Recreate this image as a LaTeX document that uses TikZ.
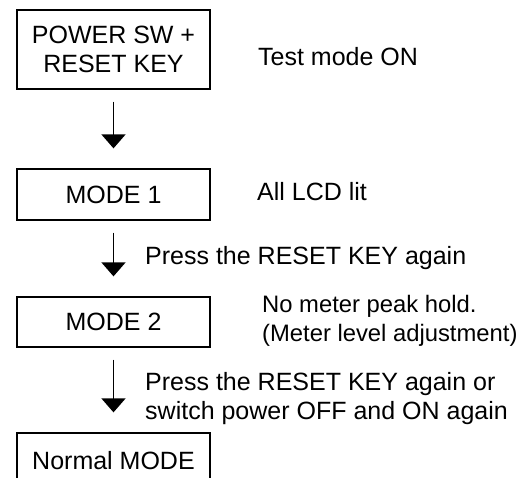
\documentclass[tikz,border=0pt]{standalone}
\usepackage{fontspec}
\setmainfont{Liberation Sans}
\usetikzlibrary{arrows.meta}

\tikzset{
    modebox/.style={draw, line width=1.3pt, minimum width=193pt, inner sep=0pt, font=\fontsize{25}{29}\selectfont, align=center},
    steplabel/.style={anchor=west, inner sep=0pt, font=\fontsize{25}{29}\selectfont, align=left},
    flowarrow/.style={line width=1.8pt, -{Triangle[width=24pt,length=14pt]}, shorten <=12pt, shorten >=20pt}
}

\begin{document}
\begin{tikzpicture}[x=1pt, y=-1pt]
    % Page size
    \useasboundingbox (0,0) rectangle (522,477);
    \clip (0,0) rectangle (522,477);

    % Mode boxes
    \node[modebox, minimum height=79pt] (pwr) at (113.5,49.5) {POWER SW +\\RESET KEY};
    \node[modebox, minimum height=51pt] (mode1) at (113.5,194.5) {MODE 1};
    \node[modebox, minimum height=50pt] (mode2) at (113.5,322) {MODE 2};
    \node[modebox, minimum height=56pt] (normal) at (113.5,461) {Normal MODE};

    % Arrows between the modes
    \draw[flowarrow] (pwr) -- (mode1);
    \draw[flowarrow] (mode1) -- (mode2);
    \draw[flowarrow] (mode2) -- (normal);

    % Notes on the right
    \node[steplabel] (teston) at (258,57) {Test mode ON};
    \node[steplabel] (alllcd) at (257,192) {All LCD lit};
    \node[steplabel] (press1) at (145,258) {Press the RESET KEY again};
    \node[steplabel, font=\fontsize{23.8}{29}\selectfont] (nopeak) at (262,321) {No meter peak hold.\\(Meter level adjustment)};
    \node[steplabel] (press2) at (145,399) {Press the RESET KEY again or\\switch power OFF and ON again};

\end{tikzpicture}
\end{document}
